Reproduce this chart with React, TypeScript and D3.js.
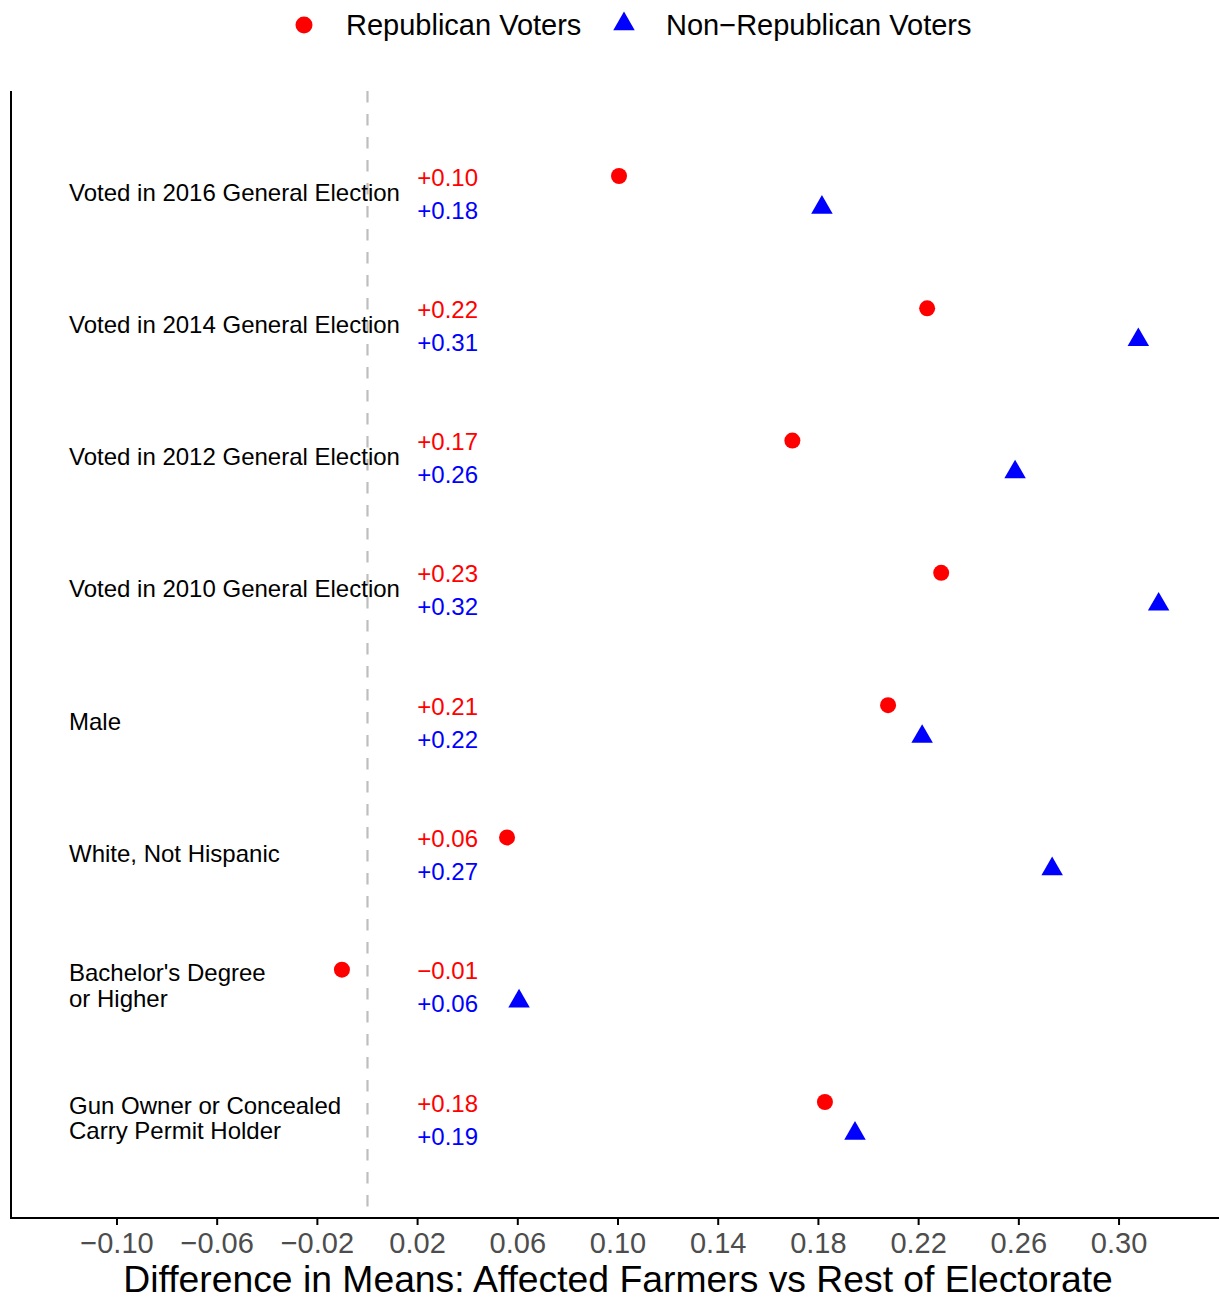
import React from "react";
import * as d3 from "d3";

const categories = [
  ["Voted in 2016 General Election"],
  ["Voted in 2014 General Election"],
  ["Voted in 2012 General Election"],
  ["Voted in 2010 General Election"],
  ["Male"],
  ["White, Not Hispanic"],
  ["Bachelor's Degree", "or Higher"],
  ["Gun Owner or Concealed", "Carry Permit Holder"],
];
const republican = [0.1004, 0.2234, 0.1696, 0.229, 0.2078, 0.0557, -0.0102, 0.1826];
const nonRepublican = [0.1814, 0.3077, 0.2585, 0.3158, 0.2214, 0.2733, 0.0605, 0.1946];
const xTicks = [-0.1, -0.06, -0.02, 0.02, 0.06, 0.1, 0.14, 0.18, 0.22, 0.26, 0.3];

const W = 1219;
const H = 1298;
const FONT = "'Liberation Sans', Arial, sans-serif";
const RED = "#ff0000";
const BLUE = "#0000ff";

const fmtSigned = (v: number) => {
  const s = Math.abs(v).toFixed(2);
  return (v < 0 ? "\u2212" : "+") + s;
};
const fmtTick = (v: number) => (v < 0 ? "\u2212" : "") + Math.abs(v).toFixed(2);

export default function App() {
  const left = 11, right = 1219, top = 91, bottom = 1218;
  const x = d3.scaleLinear().domain([-0.1423, 0.3399]).range([left, right]);
  const idx = categories.map((_, i) => i);
  const y = d3.scalePoint<number>().domain(idx).range([192, 1118]);
  const tri = d3.symbol().type(d3.symbolTriangle).size(200)();
  const labelX = 478;

  return (
    <svg width={W} height={H} style={{ display: "block", position: "absolute", left: 0, top: 0 }} fontFamily={FONT}>
      <rect width={W} height={H} fill="white" />
      {/* legend */}
      <circle cx={304} cy={25} r={8.5} fill={RED} />
      <text x={346} y={35} fontSize={29} fill="black">Republican Voters</text>
      <path d={tri} transform="translate(624,24)" fill={BLUE} />
      <text x={666} y={35} fontSize={29} fill="black">Non{"\u2212"}Republican Voters</text>

      {/* zero line */}
      <line x1={x(0)} x2={x(0)} y1={top} y2={bottom} stroke="#bebebe" strokeWidth={2.2} strokeDasharray="11.5,11.5" />

      {idx.map((i) => {
        const cy = y(i)!;
        const lines = categories[i];
        return (
          <g key={i}>
            {lines.map((ln, k) => (
              <text key={k} x={69} y={cy + 8.5 + (k - (lines.length - 1) / 2) * 25.5} fontSize={24} fill="black">
                {ln}
              </text>
            ))}
            <text x={labelX} y={cy - 15 + 8.5} fontSize={24} fill={RED} textAnchor="end">
              {fmtSigned(republican[i])}
            </text>
            <text x={labelX} y={cy + 18 + 8.5} fontSize={24} fill={BLUE} textAnchor="end">
              {fmtSigned(nonRepublican[i])}
            </text>
            <circle cx={x(republican[i])} cy={cy - 16} r={8} fill={RED} />
            <path d={tri} transform={`translate(${x(nonRepublican[i])},${cy + 15.5})`} fill={BLUE} />
          </g>
        );
      })}

      {/* axes */}
      <line x1={left} x2={left} y1={top} y2={bottom + 1} stroke="black" strokeWidth={2} />
      <line x1={left} x2={right} y1={bottom} y2={bottom} stroke="black" strokeWidth={2} />
      {xTicks.map((t) => (
        <g key={t}>
          <line x1={x(t)} x2={x(t)} y1={bottom} y2={bottom + 7} stroke="black" strokeWidth={2} />
          <text x={x(t)} y={1253} fontSize={29} fill="#4d4d4d" textAnchor="middle">
            {fmtTick(t)}
          </text>
        </g>
      ))}
      <text x={618} y={1292} fontSize={37.3} fill="black" textAnchor="middle">
        Difference in Means: Affected Farmers vs Rest of Electorate
      </text>
    </svg>
  );
}
